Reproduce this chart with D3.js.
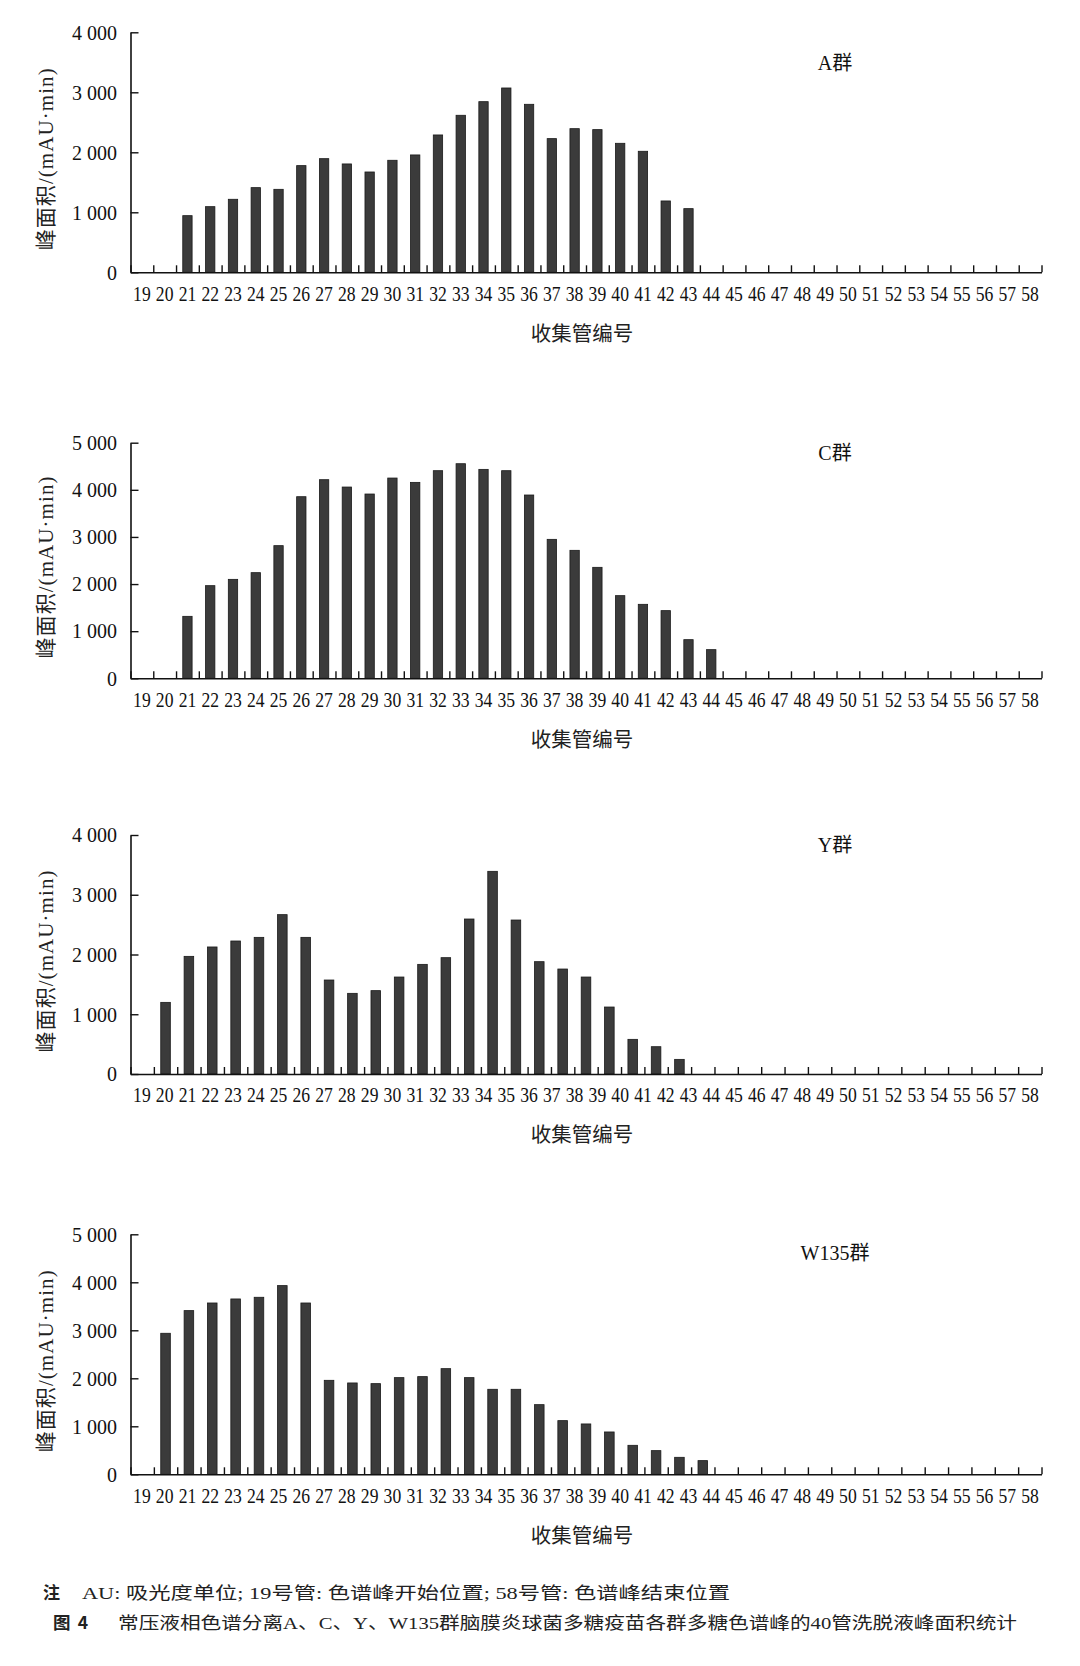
<!DOCTYPE html>
<html>
<head>
<meta charset="utf-8">
<script src="https://cdn.jsdelivr.net/npm/d3@7"></script>
<style>
	html, body { margin: 0; padding: 0; background: #fff; }
	svg { display: block; }
</style>
</head>
<body>
<div id="figure"></div>
<script>
// tube numbers (19 = peak start, 58 = peak end)
const tubes = [19, 20, 21, 22, 23, 24, 25, 26, 27, 28, 29, 30, 31, 32, 33, 34, 35, 36, 37, 38,
	39, 40, 41, 42, 43, 44, 45, 46, 47, 48, 49, 50, 51, 52, 53, 54, 55, 56, 57, 58];

// peak area per tube, mAU·min (null = no bar)
const groupA = [null, null, 944, 1094, 1217, 1411, 1383, 1778, 1894, 1806, 1672, 1867, 1956, 2289, 2617, 2844, 3072, 2800, 2228, 2394,
	2378, 2150, 2017, 1189, 1061, null, null, null, null, null, null, null, null, null, null, null, null, null, null, null];
const groupC = [null, null, 1315, 1966, 2100, 2242, 2815, 3854, 4215, 4059, 3911, 4250, 4158, 4406, 4554, 4434, 4406, 3890, 2949, 2716,
	2355, 1754, 1570, 1436, 820, 608, null, null, null, null, null, null, null, null, null, null, null, null, null, null];
const groupY = [null, 1199, 1969, 2126, 2226, 2287, 2667, 2287, 1573, 1350, 1395, 1623, 1835, 1947, 2594, 3392, 2577, 1880, 1757, 1623,
	1121, 580, 457, 245, null, null, null, null, null, null, null, null, null, null, null, null, null, null, null, null];
const groupW135 = [null, 2938, 3410, 3569, 3653, 3688, 3931, 3569, 1958, 1903, 1889, 2014, 2035, 2201, 2014, 1771, 1771, 1451, 1118, 1049,
	882, 604, 493, 354, 285, null, null, null, null, null, null, null, null, null, null, null, null, null, null, null];

const yTicks4000 = [0, 1000, 2000, 3000, 4000];
const yTicks5000 = [0, 1000, 2000, 3000, 4000, 5000];

const yTitle = '峰面积/(mAU·min)';
const xTitle = '收集管编号';
const noteLabel = '注';
const noteText = 'AU: 吸光度单位; 19号管: 色谱峰开始位置; 58号管: 色谱峰结束位置';
const figLabel = '图4';
const figText = '常压液相色谱分离A、C、Y、W135群脑膜炎球菌多糖疫苗各群多糖色谱峰的40管洗脱液峰面积统计';

// layout per panel. the Y and W135 plots were drawn with 39 tube slots,
// while the typeset tick labels always run 19-58
const panels = [
	{ label: 'A群', values: groupA, yTicks: yTicks4000, top: 32.3, base: 272.3, labelY: 63, slots: 40 },
	{ label: 'C群', values: groupC, yTicks: yTicks5000, top: 442.7, base: 678.3, labelY: 453, slots: 40 },
	{ label: 'Y群', values: groupY, yTicks: yTicks4000, top: 835, base: 1074, labelY: 845, slots: 39 },
	{ label: 'W135群', values: groupW135, yTicks: yTicks5000, top: 1234.3, base: 1474.3, labelY: 1253, slots: 39 }
];

// dimension stuff
const width = 1080;
const height = 1666;
const plotLeft = 130.5;
const plotRight = 1041.5;
const ink = '#111';
const serif = "'Liberation Serif', 'Times New Roman', 'Noto Sans CJK SC', serif";
const cjk = "'Liberation Serif', 'Noto Sans CJK SC', sans-serif";

const fmt = d3.formatLocale({ decimal: '.', thousands: ' ', grouping: [3], currency: ['', ''] }).format(',');

const $svg = d3.select('#figure').append('svg')
	.attr('width', width)
	.attr('height', height);

$svg.append('rect')
	.attr('width', width)
	.attr('height', height)
	.attr('fill', '#fff');

// the tick label row sits on an even 40 tube grid
const scaleLabel = d3.scaleBand().domain(tubes).range([plotLeft, plotRight]);

function styleAxis($axis) {
	$axis.attr('font-family', serif).attr('color', ink);
	$axis.select('.domain').attr('stroke-width', 1.6);
	$axis.selectAll('.tick line').attr('stroke-width', 1.4);
}

function drawPanel(p) {
	const $g = $svg.append('g').attr('class', 'panel');

	const slotTubes = tubes.slice(0, p.slots);
	const scaleX = d3.scaleBand().domain(slotTubes).range([plotLeft, plotRight]);
	const scaleSlot = d3.scaleLinear().domain([0, p.slots]).range([plotLeft, plotRight]);
	const scaleY = d3.scaleLinear().domain([0, d3.max(p.yTicks)]).range([p.base, p.top]);
	const barW = scaleX.step() * 0.41;

	const bars = tubes
		.map((t, i) => ({ tube: t, value: p.values[i] }))
		.filter(d => d.value != null && scaleX(d.tube) != null);

	$g.append('g').attr('class', 'g-vis')
		.selectAll('.bar')
		.data(bars)
		.join('rect')
		.attr('class', 'bar')
		.attr('x', d => scaleX(d.tube) + scaleX.bandwidth() / 2 - barW / 2)
		.attr('y', d => scaleY(d.value))
		.attr('width', barW)
		.attr('height', d => scaleY(0) - scaleY(d.value))
		.attr('fill', '#3b3b3b')
		.attr('stroke', '#1a1a1a')
		.attr('stroke-width', 0.8);

	// y axis, ticks point inward
	const $yAxis = $g.append('g')
		.attr('transform', `translate(${plotLeft},0)`)
		.call(d3.axisLeft(scaleY).tickValues(p.yTicks).tickSize(-8).tickSizeOuter(0).tickPadding(13.5).tickFormat(fmt));
	styleAxis($yAxis);
	$yAxis.selectAll('text').attr('font-size', 20).attr('dy', '0.34em');

	// x axis, tick marks on slot boundaries
	const $xAxis = $g.append('g')
		.attr('transform', `translate(0,${p.base})`)
		.call(d3.axisBottom(scaleSlot).tickValues(d3.range(0, p.slots + 1)).tickSize(-7).tickSizeOuter(0).tickFormat(''));
	styleAxis($xAxis);

	// labels are set tall and narrow, like the typeset original
	const $xLabels = $g.append('g')
		.attr('transform', `translate(0,${p.base + 21.5})`)
		.call(d3.axisBottom(scaleLabel).tickSize(0).tickPadding(0));
	styleAxis($xLabels);
	$xLabels.select('.domain').remove();
	$xLabels.selectAll('text')
		.attr('font-size', 20)
		.attr('dy', '0.34em')
		.attr('transform', 'scale(0.88,1)');

	// titles
	$g.append('text')
		.attr('x', 582)
		.attr('y', p.base + 61)
		.attr('dy', '0.36em')
		.attr('text-anchor', 'middle')
		.attr('font-family', cjk)
		.attr('font-size', 20.5)
		.attr('fill', '#222')
		.text(xTitle);

	const cy = (p.top + p.base) / 2 + 7;
	$g.append('text')
		.attr('transform', `translate(45.5,${cy}) rotate(-90)`)
		.attr('dy', '0.36em')
		.attr('text-anchor', 'middle')
		.attr('font-family', cjk)
		.attr('font-size', 21)
		.attr('textLength', 182)
		.attr('fill', '#222')
		.text(yTitle);

	$g.append('text')
		.attr('x', 835)
		.attr('y', p.labelY)
		.attr('dy', '0.36em')
		.attr('text-anchor', 'middle')
		.attr('font-family', cjk)
		.attr('font-size', 20)
		.attr('fill', ink)
		.text(p.label);
}

panels.forEach(drawPanel);

// caption
const $cap = $svg.append('g').attr('class', 'caption').attr('fill', '#222');

$cap.append('text')
	.attr('x', 43).attr('y', 1593).attr('dy', '0.36em')
	.attr('font-family', "'Noto Sans CJK SC', sans-serif").attr('font-weight', 700).attr('font-size', 17)
	.text(noteLabel);

$cap.append('text')
	.attr('x', 82).attr('y', 1593).attr('dy', '0.36em')
	.attr('font-family', cjk).attr('font-size', 17.5)
	.attr('textLength', 648).attr('lengthAdjust', 'spacingAndGlyphs')
	.text(noteText);

$cap.append('text')
	.attr('x', 53).attr('y', 1622.5).attr('dy', '0.36em')
	.attr('font-family', "'Noto Sans CJK SC', sans-serif").attr('font-weight', 700).attr('font-size', 17.5)
	.attr('textLength', 35)
	.text(figLabel);

$cap.append('text')
	.attr('x', 118).attr('y', 1622.5).attr('dy', '0.36em')
	.attr('font-family', cjk).attr('font-size', 17.5)
	.attr('textLength', 899).attr('lengthAdjust', 'spacingAndGlyphs')
	.text(figText);
</script>
</body>
</html>
